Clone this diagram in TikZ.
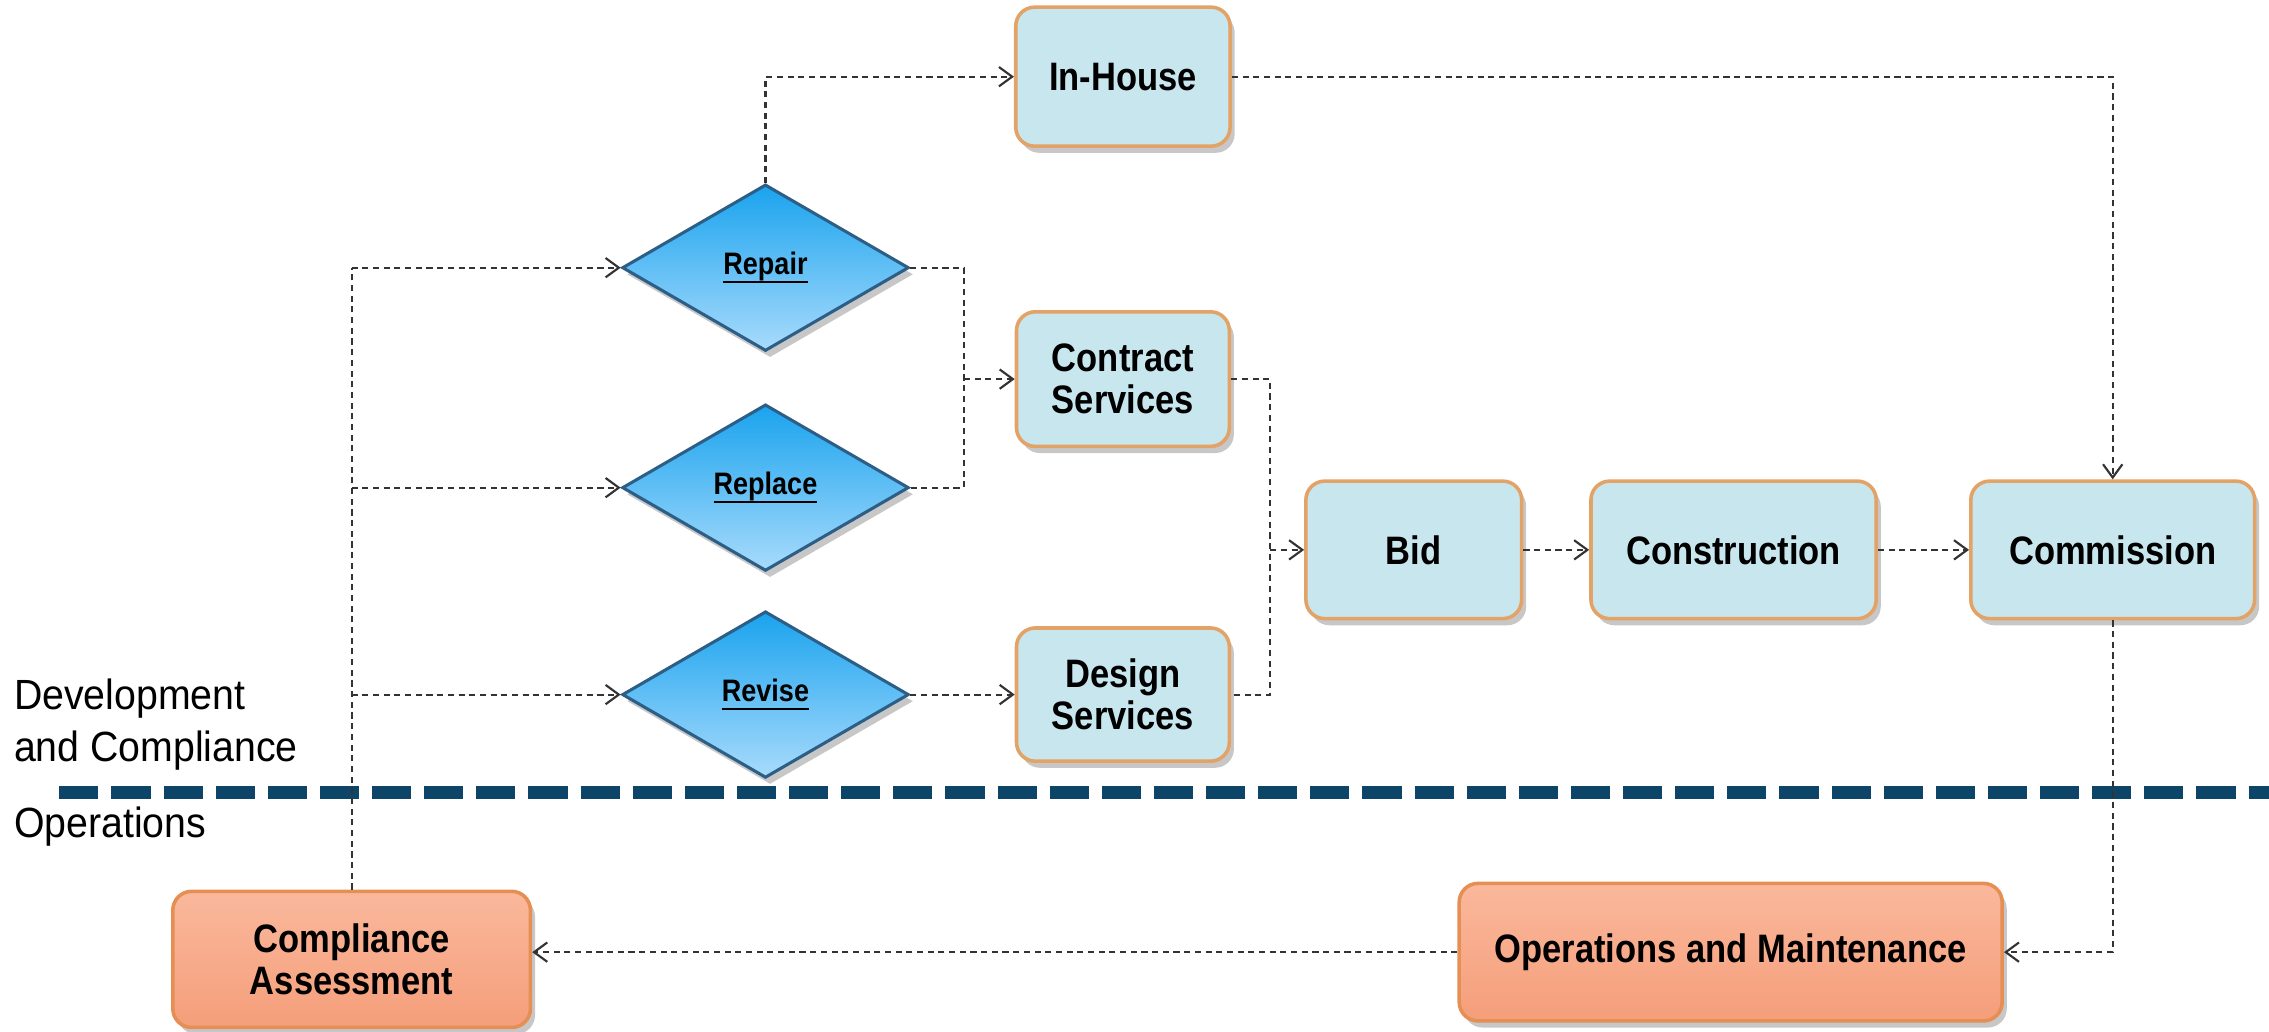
\documentclass[tikz,border=0pt]{standalone}
\usepackage{fontspec}
\setmainfont{Liberation Sans}[FakeStretch=0.93]
\newfontfamily\boxfont{Liberation Sans}[FakeStretch=0.87]
\usetikzlibrary{arrows.meta,shapes.geometric,shadows}
\definecolor{boxfill}{HTML}{C8E6EE}
\definecolor{boxline}{HTML}{E3A266}
\definecolor{dtop}{HTML}{1AA3EE}
\definecolor{dbot}{HTML}{A8DBFC}
\definecolor{dline}{HTML}{2C5E86}
\definecolor{otop}{HTML}{FAB89C}
\definecolor{obot}{HTML}{F59E7A}
\definecolor{oline}{HTML}{E58F55}
\definecolor{sepcol}{HTML}{0C4568}
\definecolor{conncol}{HTML}{333333}
\newcommand\myul[1]{\setbox0\hbox{#1}\rlap{\vrule width\wd0 height -1.25pt depth 1.7pt}\box0}
\begin{document}
\begin{tikzpicture}[x=0.01cm,y=-0.01cm,
  shad/.style={drop shadow={shadow xshift=0.9pt, shadow yshift=-1.3pt, fill=black, opacity=0.22}},
  bluebox/.style={rectangle, rounded corners=0.13cm, draw=boxline, fill=boxfill, line width=0.7pt,
    inner sep=0pt, align=center, font=\boxfont\fontsize{7.8}{8.2}\selectfont\bfseries, shad},
  orangebox/.style={bluebox, draw=oline, top color=otop, bottom color=obot},
  decision/.style={diamond, draw=dline, line width=0.6pt, top color=dtop, bottom color=dbot,
    inner sep=0pt, minimum width=1.98cm, minimum height=1.15cm, aspect=1.72,
    font=\boxfont\fontsize{6.1}{7}\selectfont\bfseries, shad},
  conn/.style={draw=conncol, line width=0.42pt, dash pattern=on 1.2pt off 0.9pt},
  arr/.style={conn, -{Straight Barb[length=2.6pt,width=3.8pt]}},
  sepline/.style={draw=sepcol, line width=2.55pt, dash pattern=on 0.27cm off 0.09cm},
  lbl/.style={inner sep=0pt, anchor=west, font=\fontsize{8.3}{10.2}\selectfont}
]
\useasboundingbox (0,0) rectangle (1568,712.5);

% separator
\coordinate (sepL) at (41,548);
\coordinate (sepR) at (1568,548);
\draw[sepline] (sepL) -- (sepR);

% side labels
\node[lbl] (dev1) at (9,483) {Development};
\node[lbl] (dev2) at (9,519) {and Compliance};
\node[lbl] (ops) at (9,571) {Operations};

% boxes
\node[bluebox, minimum width=1.48cm, minimum height=0.96cm] (inhouse) at (776,53) {In-House};
\node[bluebox, minimum width=1.47cm, minimum height=0.93cm] (contract) at (776,262) {Contract\\Services};
\node[bluebox, minimum width=1.47cm, minimum height=0.92cm] (design) at (776,480) {Design\\Services};
\node[bluebox, minimum width=1.49cm, minimum height=0.95cm] (bid) at (977,380) {Bid};
\node[bluebox, minimum width=1.97cm, minimum height=0.95cm] (constr) at (1198,380) {Construction};
\node[bluebox, minimum width=1.96cm, minimum height=0.95cm] (commis) at (1460,380) {Commission};
\node[orangebox, minimum width=2.47cm, minimum height=0.94cm] (compl) at (243,663) {Compliance\\Assessment};
\node[orangebox, minimum width=3.75cm, minimum height=0.95cm] (om) at (1196,658) {Operations and Maintenance};

% decisions
\node[decision] (repair) at (529,185) {\myul{Repair}};
\node[decision] (replace) at (529,337) {\myul{Replace}};
\node[decision] (revise) at (529,480) {\myul{Revise}};

% trunk from compliance assessment
\draw[conn] (compl.north) -- (compl.north |- repair.west);
\draw[arr] (compl.north |- repair.west) -- (repair.west);
\draw[arr] (compl.north |- replace.west) -- (replace.west);
\draw[arr] (compl.north |- revise.west) -- (revise.west);

% repair -> in-house
\draw[arr] (repair.north) |- (inhouse.west);

% repair / replace -> contract
\draw[conn] (repair.east) -- ++(37,0) coordinate (mA) |- (replace.east);
\draw[arr] (mA |- contract.west) -- (contract.west);

% revise -> design
\draw[arr] (revise.east) -- (design.west);

% contract / design -> bid
\draw[conn] (contract.east) -- ++(27,0) coordinate (mB) |- (design.east);
\draw[arr] (mB |- bid.west) -- (bid.west);

% chain
\draw[arr] (bid.east) -- (constr.west);
\draw[arr] (constr.east) -- (commis.west);

% in-house -> commission
\draw[arr] (inhouse.east) -| (commis.north);

% commission -> O&M
\draw[arr] (commis.south) |- (om.east);

% O&M -> compliance
\draw[arr] (om.west) -- (om.west -| compl.east);
\end{tikzpicture}
\end{document}
